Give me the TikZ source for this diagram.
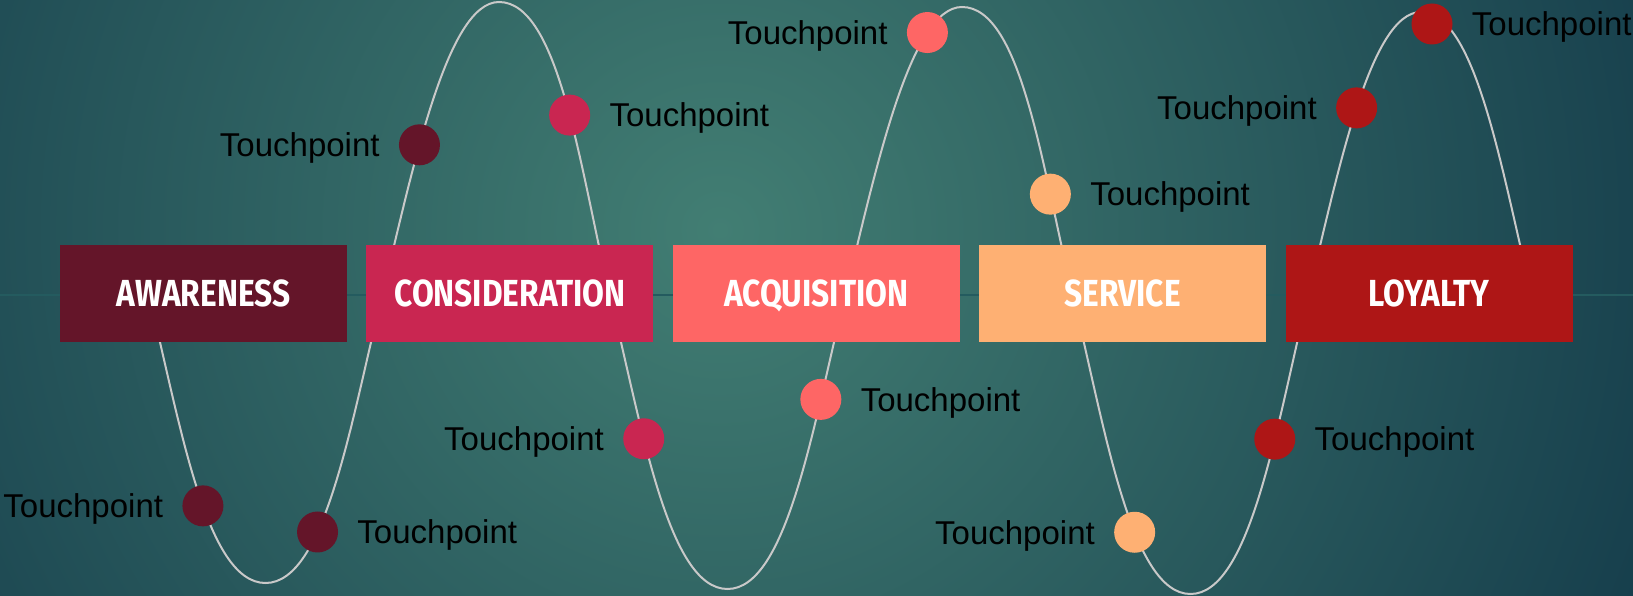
\documentclass[tikz,border=0pt]{standalone}
\usepackage{fontspec}
\usepackage{tikz}
\usetikzlibrary{positioning}
\setmainfont{Liberation Sans}
\newfontfamily\stagefont[FakeStretch=0.84]{Fira Sans}
\definecolor{awareness}{HTML}{641529}
\definecolor{consider}{HTML}{C92651}
\definecolor{acquire}{HTML}{FE6665}
\definecolor{service}{HTML}{FEB073}
\definecolor{loyalty}{HTML}{AE1616}
\definecolor{bgmid}{HTML}{427E73}
\definecolor{bgedge}{HTML}{163E4C}
\definecolor{curvegray}{HTML}{C9C9C9}
\definecolor{axisline}{HTML}{245B5F}
\pgfdeclareradialshading{tealglow}{\pgfpoint{0bp}{0bp}}{color(0bp)=(bgmid); color(25bp)=(bgedge); color(50bp)=(bgedge)}
\tikzset{
	stage/.style={rectangle, fill=#1, minimum width=287pt, minimum height=97pt, inner sep=0pt, text=white, font=\stagefont\bfseries\fontsize{37.7}{40}\selectfont, text height=26pt, text depth=0pt},
	tp/.style={circle, fill=#1, minimum size=41pt, inner sep=0pt},
	tplabel/.style={inner sep=0pt, text=black, font=\fontsize{33}{38}\selectfont, text height=23.6pt, text depth=0pt},
	journey/.style={draw=curvegray, line width=2pt},
}
\begin{document}
\begin{tikzpicture}[x=1pt, y=-1pt]
	\useasboundingbox (0,0) rectangle (1633,596);
	\begin{scope}
		\clip (0,0) rectangle (1633,596);
		\fill[bgedge] (0,0) rectangle (1633,596);
		\shade[shading=tealglow] (720,230) circle (1000pt);
	\end{scope}
	\draw[axisline, line width=2pt] (0,295) -- (1633,295);
	%
	\draw[journey] (149,296)
		.. controls +(31,125) and +(-60,0) .. (265.5,583) coordinate[pos=0.56] (p1)
		.. controls +(60,0) and +(-31,125) .. (382,296) coordinate[pos=0.35] (p2)
		.. controls +(31,-128) and +(-52,0) .. (499,2) coordinate[pos=0.38] (p3)
		.. controls +(60,0) and +(-30,-128) .. (610,296) coordinate[pos=0.54] (p4)
		.. controls +(31.5,127) and +(-60,0) .. (727.5,589) coordinate[pos=0.36] (p5)
		.. controls +(60,0) and +(-31.5,127) .. (845,296) coordinate[pos=0.74] (p6)
		.. controls +(30.5,-125) and +(-52,0) .. (962,7) coordinate[pos=0.76] (p7)
		.. controls +(60,0) and +(-30.5,-125) .. (1073,296) coordinate[pos=0.74] (p8)
		.. controls +(31.5,129) and +(-60,0) .. (1190.5,594) coordinate[pos=0.62] (p9)
		.. controls +(60,0) and +(-31.5,129) .. (1308,296) coordinate[pos=0.645] (p10)
		.. controls +(30,-123) and +(-51,0) .. (1421,12) coordinate[pos=0.5] (p11)
		.. controls +(55,0) and +(-30,-123) .. (1532,296);
	\coordinate (p12) at (1432,24);
	%
	\node[stage=awareness] (aw) at (203.5,293.5) {AWARENESS};
	\node[stage=consider, right=19pt of aw] (co) {CONSIDERATION};
	\node[stage=acquire, right=19pt of co] (ac) {ACQUISITION};
	\node[stage=service, right=19pt of ac] (se) {SERVICE};
	\node[stage=loyalty, right=19pt of se] (lo) {LOYALTY};
	%
	\node[tp=awareness] (tp1) at (p1) {};
	\node[tp=awareness] (tp2) at (p2) {};
	\node[tp=awareness] (tp3) at (p3) {};
	\node[tp=consider] (tp4) at (p4) {};
	\node[tp=consider] (tp5) at (p5) {};
	\node[tp=acquire] (tp6) at (p6) {};
	\node[tp=acquire] (tp7) at (p7) {};
	\node[tp=service] (tp8) at (p8) {};
	\node[tp=service] (tp9) at (p9) {};
	\node[tp=loyalty] (tp10) at (p10) {};
	\node[tp=loyalty] (tp11) at (p11) {};
	\node[tp=loyalty] (tp12) at (p12) {};
	%
	\node[tplabel, left=19pt of tp1] (lb1) {Touchpoint};
	\node[tplabel, right=19pt of tp2] (lb2) {Touchpoint};
	\node[tplabel, left=19pt of tp3] (lb3) {Touchpoint};
	\node[tplabel, right=19pt of tp4] (lb4) {Touchpoint};
	\node[tplabel, left=19pt of tp5] (lb5) {Touchpoint};
	\node[tplabel, right=19pt of tp6] (lb6) {Touchpoint};
	\node[tplabel, left=19pt of tp7] (lb7) {Touchpoint};
	\node[tplabel, right=19pt of tp8] (lb8) {Touchpoint};
	\node[tplabel, left=19pt of tp9] (lb9) {Touchpoint};
	\node[tplabel, right=19pt of tp10] (lb10) {Touchpoint};
	\node[tplabel, left=19pt of tp11] (lb11) {Touchpoint};
	\node[tplabel, right=19pt of tp12] (lb12) {Touchpoint};
\end{tikzpicture}
\end{document}
